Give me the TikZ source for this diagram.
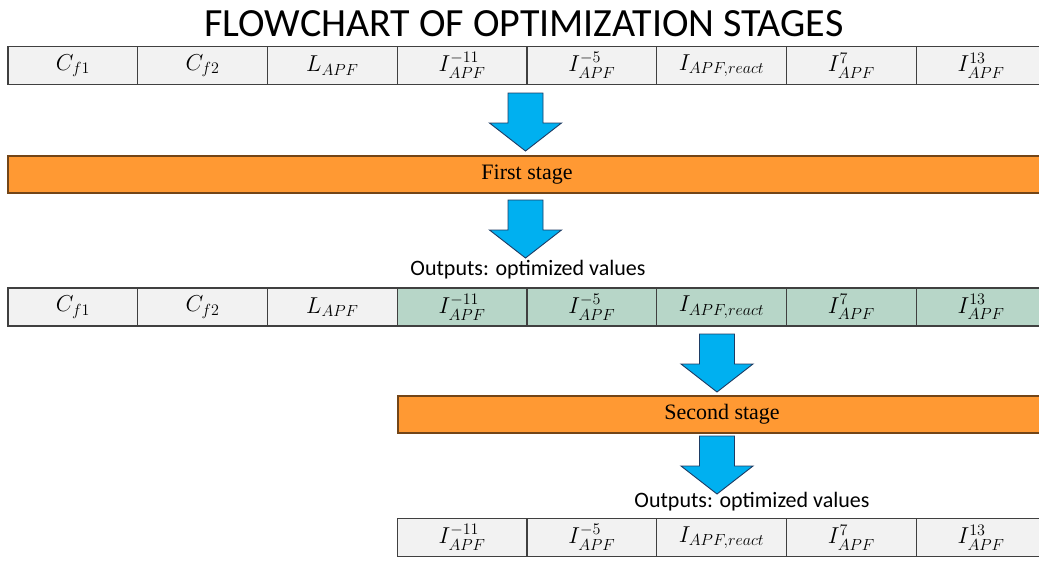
\documentclass[tikz,border=0pt]{standalone}
\usepackage{fix-cm}
\usepackage{amsmath}
\usepackage{fontspec}
\usepackage{tikz}

\setmainfont{Liberation Serif}
\newfontfamily\calibri{Carlito}

\definecolor{cellgray}{RGB}{242,242,242}
\definecolor{cellgreen}{RGB}{183,214,200}
\definecolor{stageorange}{RGB}{255,153,51}
\definecolor{arrowblue}{RGB}{0,176,240}
\definecolor{arrowedge}{RGB}{30,60,100}

\tikzset{
	cell/.style={draw=black!75, line width=1.1pt, fill=cellgray, minimum width=129.75pt, minimum height=38pt, inner sep=0pt, font=\fontsize{23}{27}\selectfont},
	optcell/.style={cell, fill=cellgreen},
	stagebar/.style={draw=stageorange!45!black, line width=1.1pt, fill=stageorange, minimum height=37pt, inner sep=0pt, font=\rmfamily\fontsize{22}{26}\selectfont},
	outtext/.style={font=\calibri\fontsize{22}{26}\selectfont, inner sep=0pt},
	flowarrow/.pic={
		\draw[draw=arrowedge, line width=0.9pt, fill=arrowblue, line join=miter] (-17.5,0) -- (17.5,0) -- (17.5,30) -- (36,30) -- (0,58) -- (-36,30) -- (-17.5,30) -- cycle;
	}
}

\begin{document}
\begin{tikzpicture}[x=1pt, y=-1pt]
	\useasboundingbox (0,0) rectangle (1039,560);
	
	\node[font=\calibri\fontsize{40}{48}\selectfont, anchor=base, inner sep=0pt] (title) at (524,36) {FLOWCHART OF OPTIMIZATION STAGES};
	
	% parameters going in
	\path ( 72.9,65.5) node [cell] (in1) {$C_{f1}$}
	(202.6,65.5) node [cell] (in2) {$C_{f2}$}
	(332.4,65.5) node [cell] (in3) {$L_{APF}$}
	(462.1,65.5) node [cell] (in4) {$I_{APF}^{-11}$}
	(591.9,65.5) node [cell] (in5) {$I_{APF}^{-5}$}
	(721.6,65.5) node [cell] (in6) {$I_{APF,react}$}
	(851.4,65.5) node [cell] (in7) {$I_{APF}^{7}$}
	(981.1,65.5) node [cell] (in8) {$I_{APF}^{13}$};
	
	\node[stagebar, minimum width=1038pt] (stage1) at (527,174.5) {First stage};
	
	\node[outtext] (out1) at (528,270) {Outputs: optimized values};
	
	% after first stage, green ones are optimized
	\path ( 72.9,307) node [cell] (mid1) {$C_{f1}$}
	(202.6,307) node [cell] (mid2) {$C_{f2}$}
	(332.4,307) node [cell] (mid3) {$L_{APF}$}
	(462.1,307) node [optcell] (mid4) {$I_{APF}^{-11}$}
	(591.9,307) node [optcell] (mid5) {$I_{APF}^{-5}$}
	(721.6,307) node [optcell] (mid6) {$I_{APF,react}$}
	(851.4,307) node [optcell] (mid7) {$I_{APF}^{7}$}
	(981.1,307) node [optcell] (mid8) {$I_{APF}^{13}$};
	
	\node[stagebar, minimum width=648pt] (stage2) at (722,414.5) {Second stage};
	
	\node[outtext] (out2) at (752,502) {Outputs: optimized values};
	
	\path (462.1,537.5) node [cell] (fin4) {$I_{APF}^{-11}$}
	(591.9,537.5) node [cell] (fin5) {$I_{APF}^{-5}$}
	(721.6,537.5) node [cell] (fin6) {$I_{APF,react}$}
	(851.4,537.5) node [cell] (fin7) {$I_{APF}^{7}$}
	(981.1,537.5) node [cell] (fin8) {$I_{APF}^{13}$};
	
	% block arrows between the rows
	\coordinate (arr1) at (525.5,93);
	\coordinate (arr2) at (525.5,200);
	\coordinate (arr3) at (717,334);
	\coordinate (arr4) at (717,436);
	\pic at (arr1) {flowarrow};
	\pic at (arr2) {flowarrow};
	\pic at (arr3) {flowarrow};
	\pic at (arr4) {flowarrow};
	
\end{tikzpicture}
\end{document}
